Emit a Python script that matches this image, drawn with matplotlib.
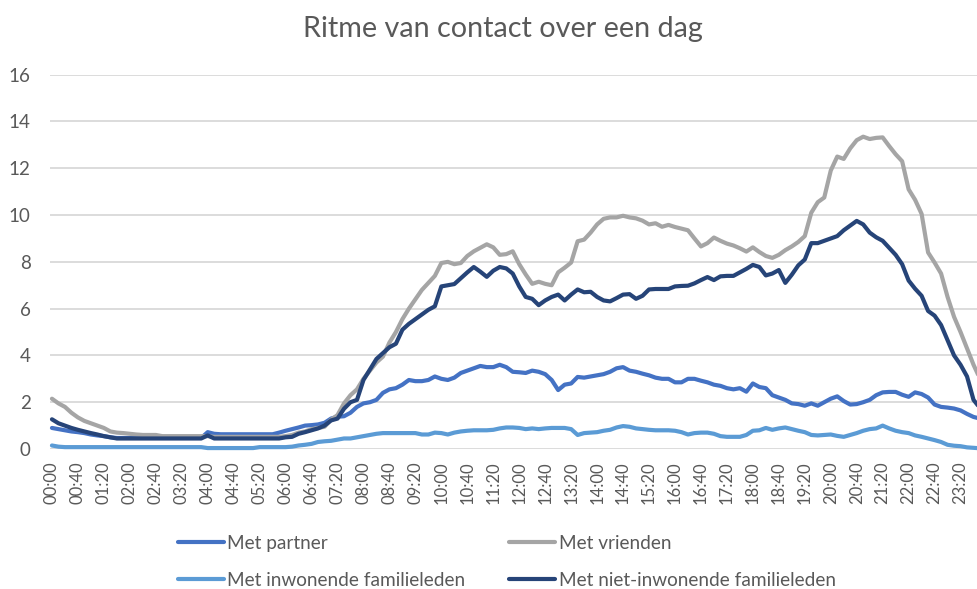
import matplotlib
matplotlib.use("Agg")
import matplotlib.pyplot as plt
import numpy as np

plt.rcParams['font.family'] = ['Lato', 'DejaVu Sans']

times = [f"{h:02d}:{m:02d}" for h in range(24) for m in range(0, 60, 10)]

partner = [
    0.9, 0.85, 0.8, 0.75, 0.72, 0.68, 0.62, 0.58, 0.55, 0.5,
    0.47, 0.47, 0.47, 0.47, 0.47, 0.47, 0.47, 0.47, 0.47, 0.47,
    0.47, 0.47, 0.47, 0.47, 0.72, 0.65, 0.63, 0.63, 0.63, 0.63,
    0.63, 0.63, 0.63, 0.63, 0.63, 0.7, 0.78, 0.85, 0.92, 1.0,
    1.02, 1.05, 1.12, 1.3, 1.38, 1.4, 1.55, 1.8, 1.95, 2.0,
    2.1, 2.4, 2.55, 2.6, 2.75, 2.95, 2.9, 2.9, 2.95, 3.1,
    3.0, 2.95, 3.05, 3.25, 3.35, 3.45, 3.55, 3.5, 3.5, 3.6,
    3.5, 3.3, 3.28, 3.25, 3.35, 3.3, 3.2, 2.95, 2.52, 2.75,
    2.8, 3.08, 3.05, 3.1, 3.15, 3.2, 3.3, 3.45, 3.5, 3.35,
    3.3, 3.22, 3.15, 3.05, 3.0, 3.0, 2.85, 2.85, 3.0, 3.0,
    2.92, 2.85, 2.75, 2.7, 2.6, 2.55, 2.6, 2.45, 2.8, 2.65,
    2.6, 2.3, 2.2, 2.1, 1.95, 1.92, 1.85, 1.95, 1.85, 2.0,
    2.15, 2.25, 2.05, 1.9, 1.92, 2.0, 2.1, 2.3, 2.42, 2.44,
    2.44, 2.32, 2.23, 2.42, 2.35, 2.2, 1.9, 1.8, 1.77, 1.73,
    1.65, 1.5, 1.37, 1.3,
]

vrienden = [
    2.15, 1.95, 1.8, 1.55, 1.35, 1.2, 1.1, 1.0, 0.9, 0.75,
    0.7, 0.68, 0.65, 0.62, 0.6, 0.6, 0.6, 0.55, 0.55, 0.55,
    0.55, 0.55, 0.55, 0.55, 0.55, 0.52, 0.52, 0.52, 0.52, 0.52,
    0.52, 0.52, 0.52, 0.52, 0.52, 0.52, 0.55, 0.6, 0.7, 0.75,
    0.85, 0.9, 0.95, 1.25, 1.45, 1.95, 2.3, 2.55, 3.0, 3.35,
    3.7, 3.95, 4.55, 5.0, 5.55, 6.0, 6.4, 6.8, 7.1, 7.4,
    7.95, 8.0, 7.9, 7.95, 8.25, 8.45, 8.6, 8.75, 8.62, 8.3,
    8.33, 8.45, 7.9, 7.46, 7.06, 7.15, 7.06, 7.0, 7.55, 7.75,
    7.97, 8.88, 8.95, 9.25, 9.6, 9.84, 9.9, 9.9, 9.97, 9.9,
    9.86, 9.76, 9.6, 9.65, 9.5, 9.58, 9.49, 9.42, 9.35, 9.0,
    8.66, 8.8, 9.04, 8.9, 8.78, 8.7, 8.58, 8.44, 8.62, 8.42,
    8.25, 8.17, 8.3, 8.5, 8.66, 8.85, 9.1, 10.1, 10.55, 10.75,
    11.9, 12.5, 12.4, 12.85, 13.2, 13.35, 13.25, 13.3, 13.32, 12.95,
    12.6, 12.3, 11.1, 10.65, 10.05, 8.4, 7.97, 7.5, 6.5, 5.65,
    5.0, 4.3, 3.6, 3.0,
]

inwonend = [
    0.15, 0.1, 0.08, 0.08, 0.08, 0.08, 0.08, 0.08, 0.08, 0.08,
    0.08, 0.08, 0.08, 0.08, 0.08, 0.08, 0.08, 0.08, 0.08, 0.08,
    0.08, 0.08, 0.08, 0.08, 0.04, 0.04, 0.04, 0.04, 0.04, 0.04,
    0.04, 0.04, 0.08, 0.08, 0.08, 0.08, 0.08, 0.1, 0.15, 0.18,
    0.22, 0.3, 0.33, 0.35, 0.4, 0.45, 0.45, 0.5, 0.55, 0.6,
    0.65, 0.68, 0.68, 0.68, 0.68, 0.68, 0.68, 0.62, 0.62, 0.7,
    0.68, 0.62, 0.7, 0.75, 0.78, 0.8, 0.8, 0.8, 0.82, 0.88,
    0.92, 0.92, 0.9, 0.85, 0.88, 0.85, 0.88, 0.9, 0.9, 0.9,
    0.85, 0.6, 0.68, 0.7, 0.72, 0.78, 0.82, 0.92, 0.98, 0.95,
    0.88, 0.85, 0.82, 0.8, 0.8, 0.8, 0.78, 0.72, 0.62, 0.68,
    0.7, 0.7, 0.65, 0.55, 0.52, 0.52, 0.52, 0.6, 0.78, 0.8,
    0.9, 0.82, 0.88, 0.92, 0.85, 0.78, 0.72, 0.6, 0.58, 0.6,
    0.62, 0.56, 0.52, 0.6, 0.68, 0.78, 0.85, 0.88, 1.0, 0.88,
    0.78, 0.72, 0.68, 0.58, 0.52, 0.45, 0.38, 0.3, 0.18, 0.14,
    0.12, 0.07, 0.05, 0.03,
]

niet_inwonend = [
    1.27, 1.1, 1.0, 0.9, 0.82, 0.75, 0.68, 0.62, 0.55, 0.5,
    0.45, 0.45, 0.45, 0.45, 0.45, 0.45, 0.45, 0.45, 0.45, 0.45,
    0.45, 0.45, 0.45, 0.45, 0.58, 0.45, 0.45, 0.45, 0.45, 0.45,
    0.45, 0.45, 0.45, 0.45, 0.45, 0.45, 0.5, 0.52, 0.65, 0.72,
    0.8, 0.88, 1.0, 1.22, 1.3, 1.72, 2.0, 2.1, 2.95, 3.4,
    3.85, 4.1, 4.35, 4.5, 5.1, 5.35, 5.55, 5.75, 5.95, 6.1,
    6.95, 7.0, 7.05, 7.3, 7.55, 7.78, 7.58, 7.36, 7.62, 7.78,
    7.72, 7.5, 6.95, 6.5, 6.42, 6.15, 6.35, 6.5, 6.6, 6.35,
    6.6, 6.82, 6.7, 6.72, 6.5, 6.35, 6.31, 6.45, 6.6, 6.62,
    6.42, 6.55, 6.82, 6.84, 6.84, 6.84, 6.95, 6.97, 6.98, 7.08,
    7.22, 7.35, 7.22, 7.38, 7.4, 7.4, 7.55, 7.7, 7.87, 7.78,
    7.42, 7.5, 7.65, 7.1, 7.45, 7.85, 8.1, 8.8, 8.8, 8.9,
    9.0, 9.1, 9.35, 9.55, 9.75, 9.6, 9.25, 9.05, 8.9, 8.6,
    8.3, 7.9, 7.2, 6.85, 6.55, 5.9, 5.7, 5.3, 4.65, 4.0,
    3.6, 3.1, 2.1, 1.75,
]

labels = ["Met partner", "Met vrienden", "Met inwonende familieleden",
          "Met niet-inwonende familieleden"]
colors = ["#4472C4", "#A5A5A5", "#5B9BD5", "#264478"]
series = [partner, vrienden, inwonend, niet_inwonend]

W, H = 978, 589
fig = plt.figure(figsize=(W / 100, H / 100), dpi=100)
x0_px, y0_px, ytop_px = 50, 449, 74.7
step = 6.49
xmin = -0.3
xmax = 143.0
right_px = x0_px + (xmax - xmin) * step
ax = fig.add_axes([x0_px / W, (H - y0_px) / H, (right_px - x0_px) / W, (y0_px - ytop_px) / H])

x = np.arange(len(times))
handles = []
for s, c, lab in zip(series, colors, labels):
    h, = ax.plot(x, s, color=c, lw=3.0, label=lab, solid_joinstyle='round',
                 solid_capstyle='round', clip_on=False)
    handles.append(h)

ax.set_xlim(xmin, xmax)
ax.set_ylim(0, 16)
ax.set_yticks(range(0, 17, 2))
ax.grid(axis='y', color='#D9D9D9', lw=1.3)
ax.set_axisbelow(True)
for sp in ax.spines.values():
    sp.set_visible(False)
ax.tick_params(axis='y', length=0, pad=14, labelsize=13.5, labelcolor='#595959')
ticks = list(range(0, len(times), 4))
ax.set_xticks(ticks)
ax.set_xticklabels([times[t] for t in ticks], rotation=90, fontsize=12, color='#595959')
ax.tick_params(axis='x', length=0, pad=9)

fig.text(503 / W, 1 - 29 / H, "Ritme van contact over een dag", ha='center', va='center',
         fontsize=20.7, color='#595959')

order = [0, 2, 1, 3]
leg = fig.legend([handles[i] for i in order], [labels[i] for i in order], ncol=2,
                 loc='upper left', bbox_to_anchor=(178 / W, 1 - 535 / H), frameon=False,
                 fontsize=13.7, handlelength=2.4, handletextpad=0.2, columnspacing=2.3,
                 labelspacing=1.05, borderpad=0, borderaxespad=0, labelcolor='#595959')

fig.savefig("out.png", dpi=100)
